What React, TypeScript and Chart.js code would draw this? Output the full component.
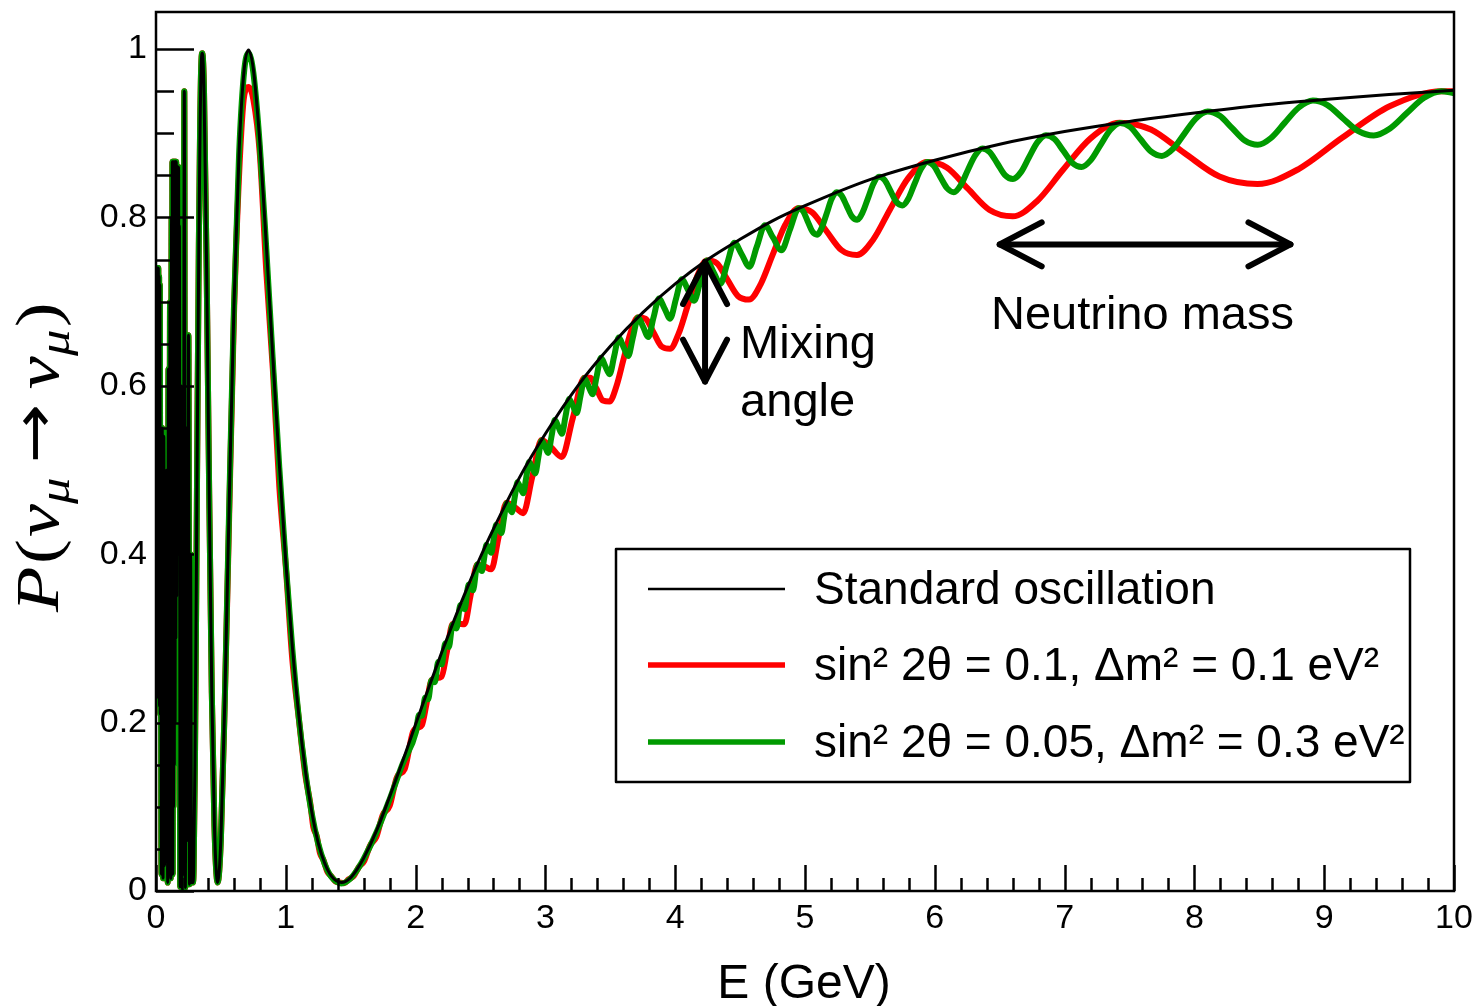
import React, { useEffect, useRef } from 'react';
import { Chart, registerables } from 'chart.js';

Chart.register(...registerables);

// ---------- data (E in GeV, survival probability) ----------
// shared low-energy part (fast, aliased oscillations) used by all three curves
const LOW_E = [0, 0.003, 0.006, 0.009, 0.012, 0.015, 0.018, 0.021, 0.024, 0.027, 0.03, 0.033, 0.036, 0.042, 0.048, 0.054, 0.06, 0.066, 0.072, 0.078, 0.084, 0.09, 0.096, 0.102, 0.108, 0.114, 0.12, 0.123, 0.126, 0.129, 0.132, 0.135, 0.138, 0.141, 0.144, 0.147, 0.15, 0.153, 0.156, 0.159, 0.162, 0.165, 0.168, 0.171, 0.174, 0.177, 0.18, 0.186, 0.192, 0.198, 0.204, 0.21, 0.218, 0.226, 0.234, 0.242, 0.25, 0.258, 0.266, 0.274, 0.285, 0.29, 0.3, 0.31, 0.32, 0.33, 0.34, 0.35, 0.357, 0.37, 0.39, 0.41, 0.43, 0.45, 0.475, 0.5, 0.53];
const LOW_P = [0.74, 0.23, 0.74, 0.24, 0.74, 0.23, 0.74, 0.24, 0.73, 0.22, 0.72, 0.21, 0.55, 0.02, 0.55, 0.015, 0.54, 0.03, 0.45, 0.11, 0.5, 0.01, 0.62, 0.02, 0.7, 0.015, 0.8, 0.05, 0.866, 0.02, 0.866, 0.1, 0.866, 0.15, 0.866, 0.2, 0.866, 0.3, 0.866, 0.35, 0.86, 0.4, 0.86, 0.45, 0.86, 0.5, 0.79, 0.005, 0.6, 0.004, 0.35, 0.02, 0.95, 0.004, 0.55, 0.06, 0.66, 0.008, 0.4, 0.01, 0.01, 0.026, 0.151, 0.352, 0.572, 0.768, 0.911, 0.987, 0.995, 0.949, 0.74, 0.47, 0.235, 0.078, 0.01, 0.062, 0.226];

// standard oscillation
const STD_E = [0.56, 0.6, 0.64, 0.68, 0.713, 0.75, 0.8, 0.85, 0.9, 0.95, 1.0, 1.05, 1.1, 1.15, 1.2, 1.25, 1.3, 1.35, 1.43, 1.5, 1.55, 1.6, 1.7, 1.8, 1.9, 2.0, 2.1, 2.2, 2.3, 2.4, 2.5, 2.6, 2.8, 3.0, 3.25, 3.5, 3.75, 4.0, 4.25, 4.5, 4.75, 5.0, 5.5, 6.0, 6.5, 7.0, 7.5, 8.0, 8.5, 9.0, 9.5, 10];
const STD_P = [0.433, 0.692, 0.878, 0.977, 0.999, 0.976, 0.889, 0.767, 0.634, 0.507, 0.391, 0.291, 0.209, 0.144, 0.094, 0.057, 0.033, 0.018, 0.01, 0.016, 0.026, 0.039, 0.072, 0.112, 0.154, 0.198, 0.241, 0.283, 0.323, 0.361, 0.397, 0.43, 0.491, 0.543, 0.6, 0.647, 0.687, 0.721, 0.75, 0.774, 0.796, 0.814, 0.845, 0.868, 0.887, 0.902, 0.914, 0.924, 0.933, 0.94, 0.946, 0.951];

// sin^2 2θ = 0.1, Δm^2 = 0.1 eV^2
const RED_E = [0.56, 0.6, 0.64, 0.68, 0.713, 0.75, 0.8, 0.85, 0.9, 0.95, 1.0, 1.05, 1.1, 1.15,
  1.188, 1.212, 1.2375, 1.264, 1.291, 1.32, 1.35, 1.381, 1.414, 1.449, 1.485, 1.523, 1.563, 1.605, 1.65, 1.697, 1.747, 1.8, 1.856, 1.916,
  1.98, 2.014, 2.048, 2.084, 2.121, 2.16, 2.2, 2.242, 2.285, 2.329, 2.376, 2.424, 2.475, 2.528, 2.583, 2.64, 2.7, 2.763, 2.829, 2.898, 2.97, 3.046, 3.126, 3.211,
  3.3, 3.346, 3.394, 3.443, 3.494, 3.546, 3.6, 3.655, 3.7125, 3.771, 3.832, 3.895, 3.96, 4.027, 4.097, 4.168, 4.243, 4.32, 4.4, 4.483, 4.569, 4.659, 4.752, 4.849, 4.95, 5.055, 5.165, 5.28, 5.4, 5.526, 5.657, 5.795, 5.94, 6.092, 6.253, 6.422, 6.6, 6.789, 6.988, 7.2, 7.425, 7.665, 7.92, 8.193, 8.486, 8.8, 9.138, 9.504, 9.9, 10];
const RED_P = [0.42, 0.68, 0.85, 0.945, 0.955, 0.94, 0.875, 0.735, 0.62, 0.48, 0.385, 0.275, 0.205, 0.138,
  0.1047, 0.0758, 0.0656, 0.0445, 0.0365, 0.023, 0.0177, 0.0115, 0.0102, 0.0093, 0.014, 0.0178, 0.0285, 0.0359, 0.0543, 0.0639, 0.0903, 0.101, 0.1352, 0.1449,
  0.189, 0.1936, 0.1968, 0.2223, 0.25, 0.2528, 0.2545, 0.2848, 0.3172, 0.3174, 0.3167, 0.3513, 0.3878, 0.3858, 0.382, 0.4207, 0.4612, 0.4561, 0.4488, 0.4914, 0.5357, 0.5266, 0.5155, 0.5617,
  0.6097, 0.6097, 0.5965, 0.5825, 0.5813, 0.5989, 0.6304, 0.6626, 0.6811, 0.6797, 0.6636, 0.6467, 0.644, 0.6622, 0.6957, 0.7298, 0.7488, 0.7457, 0.7266, 0.7067, 0.7024, 0.7209, 0.7561, 0.7916, 0.8108, 0.806, 0.7839, 0.7613, 0.7553, 0.7738, 0.8101, 0.8467, 0.8658, 0.8593, 0.8344, 0.8088, 0.8013, 0.8196, 0.8566, 0.8939, 0.9126, 0.9044, 0.8768, 0.8486, 0.8397, 0.8572, 0.8946, 0.932, 0.95, 0.95];

// sin^2 2θ = 0.05, Δm^2 = 0.3 eV^2
const GREEN_E = [0.56, 0.6, 0.64, 0.68, 0.713, 0.75, 0.8, 0.85, 0.9, 0.95, 1.0, 1.05, 1.1, 1.15, 1.2, 1.25, 1.3, 1.35, 1.43, 1.5, 1.55, 1.6, 1.7, 1.8, 1.9,
  2.003, 2.026, 2.049, 2.073, 2.097, 2.122, 2.148, 2.174, 2.201, 2.228, 2.256, 2.285, 2.315, 2.345, 2.377, 2.409, 2.442, 2.476,
  2.493, 2.511, 2.528, 2.546, 2.565, 2.583, 2.602, 2.621, 2.641, 2.661, 2.681, 2.701, 2.721, 2.742, 2.764, 2.785, 2.807, 2.829, 2.852, 2.875, 2.898, 2.922, 2.946, 2.971, 2.996, 3.021, 3.047, 3.073, 3.1, 3.127, 3.155, 3.183, 3.212, 3.241, 3.271, 3.301, 3.332, 3.363, 3.395, 3.428, 3.461, 3.495, 3.53, 3.565, 3.601, 3.638, 3.675, 3.714, 3.753, 3.793, 3.833, 3.875, 3.918, 3.961, 4.006, 4.051, 4.098, 4.146, 4.194, 4.244, 4.295, 4.348, 4.401, 4.456, 4.513, 4.571, 4.63, 4.691, 4.753, 4.818, 4.884, 4.952,
  4.986, 5.021, 5.057, 5.093, 5.129, 5.167, 5.204, 5.243, 5.281, 5.321, 5.361, 5.402, 5.443, 5.485, 5.527, 5.57, 5.614, 5.659, 5.704, 5.75, 5.797, 5.844, 5.893, 5.942, 5.992, 6.042, 6.094, 6.147, 6.2, 6.254, 6.31, 6.366, 6.423, 6.482, 6.541, 6.602, 6.664, 6.726, 6.79, 6.856, 6.922, 6.99, 7.059, 7.13, 7.202, 7.276, 7.351, 7.427, 7.505, 7.585, 7.667, 7.75, 7.835, 7.922, 8.011, 8.102, 8.195, 8.291, 8.388, 8.488, 8.59, 8.695, 8.802, 8.913, 9.025, 9.141, 9.26, 9.382, 9.507, 9.635, 9.767, 9.903, 10];
const GREEN_P = [0.43, 0.69, 0.875, 0.975, 0.995, 0.972, 0.885, 0.762, 0.63, 0.503, 0.388, 0.288, 0.206, 0.142, 0.092, 0.056, 0.032, 0.017, 0.009, 0.015, 0.025, 0.038, 0.07, 0.109, 0.151,
  0.1892, 0.2091, 0.2081, 0.2294, 0.2277, 0.2502, 0.248, 0.2719, 0.269, 0.2939, 0.2898, 0.3165, 0.3119, 0.3398, 0.3345, 0.3641, 0.3571, 0.388,
  0.3844, 0.38, 0.3953, 0.4112, 0.4068, 0.4017, 0.4182, 0.4349, 0.4303, 0.4253, 0.4427, 0.4605, 0.4552, 0.4499, 0.4679, 0.4855, 0.4791, 0.4724, 0.4908, 0.5096, 0.5028, 0.496, 0.5153, 0.5352, 0.5284, 0.5203, 0.5398, 0.5595, 0.5515, 0.5431, 0.5636, 0.5844, 0.5762, 0.5676, 0.5884, 0.6092, 0.5996, 0.5899, 0.6113, 0.6332, 0.6235, 0.6138, 0.6354, 0.6573, 0.6464, 0.6355, 0.658, 0.6811, 0.67, 0.658, 0.6811, 0.7036, 0.6918, 0.6798, 0.7033, 0.7265, 0.7141, 0.7011, 0.7244, 0.7488, 0.7352, 0.7212, 0.7457, 0.7699, 0.756, 0.7415, 0.7659, 0.7908, 0.7762, 0.7609, 0.7856, 0.8108,
  0.8072, 0.7952, 0.7832, 0.7795, 0.7878, 0.8047, 0.8215, 0.83, 0.8262, 0.8138, 0.8013, 0.7973, 0.8057, 0.8227, 0.8398, 0.8482, 0.8443, 0.8314, 0.8184, 0.8142, 0.8226, 0.84, 0.8574, 0.8658, 0.8613, 0.8482, 0.8348, 0.8299, 0.8383, 0.8561, 0.8734, 0.8819, 0.8776, 0.8641, 0.8503, 0.8456, 0.8538, 0.8715, 0.8891, 0.8977, 0.8931, 0.8792, 0.8648, 0.8598, 0.8681, 0.8859, 0.9037, 0.9122, 0.9074, 0.8928, 0.8782, 0.8731, 0.8814, 0.8993, 0.9174, 0.9258, 0.9207, 0.906, 0.8913, 0.8862, 0.8944, 0.9123, 0.9303, 0.9388, 0.9334, 0.9182, 0.9028, 0.8974, 0.9057, 0.9237, 0.9418, 0.95, 0.9475];

// axes
const X_MIN = 0;
const X_MAX = 10;
const Y_MIN = 0;
const Y_MAX = 1.044;
const X_MAJOR = [0, 1, 2, 3, 4, 5, 6, 7, 8, 9, 10];
const X_MINOR_STEP = 0.2;
const Y_MAJOR = [0, 0.2, 0.4, 0.6, 0.8, 1];
const Y_MINOR_STEP = 0.05;
const X_TITLE = 'E (GeV)';

// legend
const LEGEND_LABELS = [
  'Standard oscillation',
  'sin\u00B2 2\u03B8 = 0.1, \u0394m\u00B2 = 0.1 eV\u00B2',
  'sin\u00B2 2\u03B8 = 0.05, \u0394m\u00B2 = 0.3 eV\u00B2',
];
const COLORS = ['#000000', '#ff0000', '#009a00'];
const WIDTHS = [3, 6, 6];

// annotations (data coordinates)
const MIX_ARROW = { x: 4.23, yTop: 0.747, yBottom: 0.605 };
const MASS_ARROW = { y: 0.768, xLeft: 6.5, xRight: 8.74 };
const MIX_LABEL = { x: 4.5, lines: ['Mixing', 'angle'], ys: [0.633, 0.564] };
const MASS_LABEL = { x: 7.6, y: 0.6675, text: 'Neutrino mass' };

const pts = (es: number[], ps: number[]) => es.map((e, i) => ({ x: e, y: ps[i] }));

const SANS = '"Liberation Sans", Arial, Helvetica, sans-serif';
const SERIF = '"Liberation Serif", "DejaVu Serif", serif';

function drawArrowHead(ctx: CanvasRenderingContext2D, tx: number, ty: number, dx: number, dy: number) {
  const len = 42;
  const half = 22;
  const px = -dy;
  const py = dx;
  ctx.beginPath();
  ctx.moveTo(tx + dx * len + px * half, ty + dy * len + py * half);
  ctx.lineTo(tx, ty);
  ctx.lineTo(tx + dx * len - px * half, ty + dy * len - py * half);
  ctx.stroke();
}

const overlayPlugin = {
  id: 'overlay',
  afterDatasetsDraw(chart: any) {
    const { ctx, chartArea: a, scales } = chart;
    const xs = scales.x;
    const ys = scales.y;
    ctx.save();

    // frame
    ctx.strokeStyle = '#000';
    ctx.lineWidth = 2.5;
    ctx.lineCap = 'butt';
    ctx.strokeRect(a.left, a.top, a.right - a.left, a.bottom - a.top);

    // x ticks (inward)
    const nx = Math.round((X_MAX - X_MIN) / X_MINOR_STEP);
    for (let i = 0; i <= nx; i++) {
      const v = X_MIN + i * X_MINOR_STEP;
      const major = X_MAJOR.some((m) => Math.abs(m - v) < 1e-6);
      const px = Math.round(xs.getPixelForValue(v)) + 0.5;
      ctx.beginPath();
      ctx.moveTo(px, a.bottom);
      ctx.lineTo(px, a.bottom - (major ? 26 : 13));
      ctx.stroke();
    }
    // y ticks (inward)
    const ny = Math.round(1 / Y_MINOR_STEP);
    for (let i = 0; i <= ny; i++) {
      const v = i * Y_MINOR_STEP;
      const major = Y_MAJOR.some((m) => Math.abs(m - v) < 1e-6);
      const py = Math.round(ys.getPixelForValue(v)) + 0.5;
      ctx.beginPath();
      ctx.moveTo(a.left, py);
      ctx.lineTo(a.left + (major ? 38 : 18), py);
      ctx.stroke();
    }

    // x title
    ctx.fillStyle = '#000';
    ctx.font = `48px ${SANS}`;
    ctx.textAlign = 'center';
    ctx.textBaseline = 'alphabetic';
    ctx.fillText(X_TITLE, (a.left + a.right) / 2 - 1, 998);

    // y title  P(ν_μ → ν_μ)
    const parts = [
      { t: 'P', it: true, sub: false, gap: 0, f: SERIF, s: 1 },
      { t: '(', it: false, sub: false, gap: 2, f: SERIF, s: 1 },
      { t: '\u03BD', it: true, sub: false, gap: 0, f: SERIF, s: 1 },
      { t: '\u03BC', it: true, sub: true, gap: 0, f: SERIF, s: 1 },
      { t: '\u2192', it: false, sub: false, gap: 12, f: '"DejaVu Sans", sans-serif', s: 0.95 },
      { t: '\u03BD', it: true, sub: false, gap: 0, f: SERIF, s: 1 },
      { t: '\u03BC', it: true, sub: true, gap: 0, f: SERIF, s: 1 },
      { t: ')', it: false, sub: false, gap: 2, f: SERIF, s: 1 },
    ];
    const big = 62;
    const small = 44;
    const fontOf = (p: any) => `${p.it ? 'italic ' : ''}${Math.round((p.sub ? small : big) * p.s)}px ${p.f}`;
    const widths = parts.map((p) => {
      ctx.font = fontOf(p);
      return ctx.measureText(p.t).width + 2 * p.gap;
    });
    const total = widths.reduce((s, w) => s + w, 0);
    const target = 312;
    ctx.save();
    ctx.translate(58, 456);
    ctx.rotate(-Math.PI / 2);
    ctx.scale(target / total, 1);
    ctx.textAlign = 'left';
    let cx = -total / 2;
    parts.forEach((p, i) => {
      ctx.font = fontOf(p);
      ctx.fillText(p.t, cx + p.gap, p.sub ? 11 : (p.t === '\u2192' ? -4 : 0));
      cx += widths[i];
    });
    ctx.restore();

    // annotations
    ctx.strokeStyle = '#000';
    ctx.lineWidth = 6;
    ctx.lineCap = 'round';
    ctx.lineJoin = 'round';
    const vx = xs.getPixelForValue(MIX_ARROW.x);
    const vTop = ys.getPixelForValue(MIX_ARROW.yTop);
    const vBot = ys.getPixelForValue(MIX_ARROW.yBottom);
    ctx.beginPath();
    ctx.moveTo(vx, vTop);
    ctx.lineTo(vx, vBot);
    ctx.stroke();
    drawArrowHead(ctx, vx, vTop, 0, 1);
    drawArrowHead(ctx, vx, vBot, 0, -1);

    const hy = ys.getPixelForValue(MASS_ARROW.y);
    const hL = xs.getPixelForValue(MASS_ARROW.xLeft);
    const hR = xs.getPixelForValue(MASS_ARROW.xRight);
    ctx.beginPath();
    ctx.moveTo(hL, hy);
    ctx.lineTo(hR, hy);
    ctx.stroke();
    drawArrowHead(ctx, hL, hy, 1, 0);
    drawArrowHead(ctx, hR, hy, -1, 0);

    ctx.font = `47px ${SANS}`;
    ctx.fillStyle = '#000';
    ctx.textAlign = 'left';
    ctx.textBaseline = 'alphabetic';
    MIX_LABEL.lines.forEach((l, i) => {
      ctx.fillText(l, xs.getPixelForValue(MIX_LABEL.x), ys.getPixelForValue(MIX_LABEL.ys[i]));
    });
    ctx.textAlign = 'center';
    ctx.fillText(MASS_LABEL.text, xs.getPixelForValue(MASS_LABEL.x), ys.getPixelForValue(MASS_LABEL.y));

    // legend box
    const lx0 = 616, ly0 = 549, lx1 = 1410, ly1 = 782;
    ctx.fillStyle = '#fff';
    ctx.fillRect(lx0, ly0, lx1 - lx0, ly1 - ly0);
    ctx.strokeStyle = '#000';
    ctx.lineWidth = 2.5;
    ctx.lineCap = 'butt';
    ctx.strokeRect(lx0, ly0, lx1 - lx0, ly1 - ly0);
    const rows = [589, 665, 742];
    ctx.font = `46px ${SANS}`;
    ctx.textAlign = 'left';
    ctx.textBaseline = 'middle';
    LEGEND_LABELS.forEach((lab, i) => {
      ctx.strokeStyle = COLORS[i];
      ctx.lineWidth = i === 0 ? 2.5 : 5.5;
      ctx.beginPath();
      ctx.moveTo(648, rows[i]);
      ctx.lineTo(785, rows[i]);
      ctx.stroke();
      ctx.fillStyle = '#000';
      ctx.fillText(lab, 814, rows[i] + 2);
    });

    ctx.restore();
  },
};

export default function App() {
  const ref = useRef<HTMLCanvasElement>(null);
  useEffect(() => {
    if (!ref.current) return;
    Chart.defaults.font.family = SANS;
    Chart.defaults.color = '#000';
    const black = pts(LOW_E, LOW_P).concat(pts(STD_E, STD_P));
    const red = pts(LOW_E, LOW_P).concat(pts(RED_E, RED_P));
    const green = pts(LOW_E, LOW_P).concat(pts(GREEN_E, GREEN_P));
    const common = {
      pointRadius: 0,
      pointHoverRadius: 0,
      fill: false,
      cubicInterpolationMode: 'monotone' as const,
      tension: 0.4,
      borderJoinStyle: 'round' as const,
      borderCapStyle: 'round' as const,
    };
    const chart = new Chart(ref.current, {
      type: 'line',
      data: {
        datasets: [
          { label: LEGEND_LABELS[0], data: black, borderColor: COLORS[0], borderWidth: WIDTHS[0], ...common },
          { label: LEGEND_LABELS[2], data: green, borderColor: COLORS[2], borderWidth: WIDTHS[2], ...common },
          { label: LEGEND_LABELS[1], data: red, borderColor: COLORS[1], borderWidth: WIDTHS[1], ...common },
        ],
      },
      options: {
        responsive: false,
        animation: false,
        devicePixelRatio: 1,
        events: [],
        layout: { padding: { left: 0, right: 24, top: 12, bottom: 0 } },
        plugins: { legend: { display: false }, tooltip: { enabled: false }, title: { display: false } },
        scales: {
          x: {
            type: 'linear',
            min: X_MIN,
            max: X_MAX,
            grid: { display: false, drawTicks: false },
            border: { display: false },
            ticks: {
              stepSize: 1,
              padding: 7,
              font: { size: 34, family: SANS },
              color: '#000',
              maxRotation: 0,
              includeBounds: false,
              callback: (v: any) => String(Math.round(Number(v))),
            },
            afterFit: (s: any) => { s.height = 115; s.paddingLeft = 0; s.paddingRight = 0; },
          },
          y: {
            type: 'linear',
            min: Y_MIN,
            max: Y_MAX,
            grid: { display: false, drawTicks: false },
            border: { display: false },
            ticks: {
              stepSize: 0.2,
              padding: 9,
              font: { size: 34, family: SANS },
              color: '#000',
              includeBounds: false,
              callback: (v: any) => String(Math.round(Number(v) * 10) / 10),
            },
            afterFit: (s: any) => { s.width = 156; s.paddingTop = 0; s.paddingBottom = 0; },
          },
        },
      },
      plugins: [overlayPlugin],
    });
    return () => chart.destroy();
  }, []);
  return (
    <div style={{ position: 'fixed', left: 0, top: 0, width: 1478, height: 1006, background: '#fff' }}>
      <canvas ref={ref} width={1478} height={1006} style={{ display: 'block' }} />
    </div>
  );
}
